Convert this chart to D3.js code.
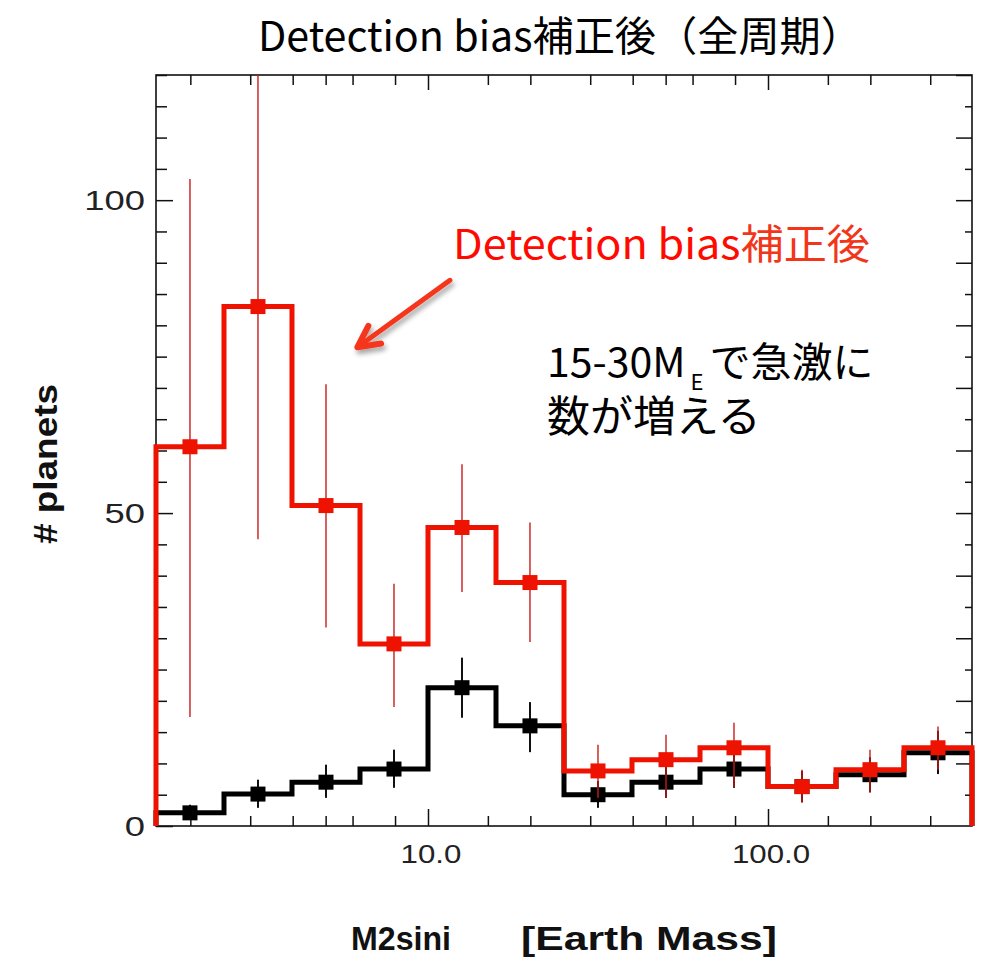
<!DOCTYPE html>
<html>
<head>
<meta charset="utf-8">
<script src="https://d3js.org/d3.v7.min.js"></script>
<style>
  body { margin: 0; background: #fff; }
  svg { display: block; }
</style>
</head>
<body>
<svg width="981" height="957"></svg>
<script>
// bin edges / centres in Earth masses (0.2 dex bins)
var binEdges = [1.585, 2.512, 3.981, 6.310, 10.0, 15.85, 25.12, 39.81, 63.10, 100.0, 158.5, 251.2, 398.1];
var binCenters = [1.995, 3.162, 5.012, 7.943, 12.59, 19.95, 31.62, 50.12, 79.43, 125.9, 199.5, 316.2];

// detection-bias corrected (red)
var corrCounts = [60.6, 83.0, 51.2, 29.1, 47.7, 38.9, 8.8, 10.6, 12.5, 6.3, 9.0, 12.5];
var corrErrLow = [17.4, 45.8, 31.7, 19.0, 37.4, 29.4, 4.5, 4.5, 6.2, 3.7, 5.3, 9.0];
var corrErrHigh = [103.4, 130.0, 70.6, 38.7, 57.8, 48.5, 13.0, 14.6, 16.5, 9.0, 12.2, 15.9];

// observed (black)
var obsCounts = [2.1, 5.1, 7.0, 9.1, 22.1, 16.0, 5.0, 7.0, 9.1, 6.3, 8.2, 11.7];
var obsErrLow = [1.0, 2.9, 4.5, 6.1, 17.3, 11.8, 2.9, 4.5, 6.1, 3.8, 5.4, 8.3];
var obsErrHigh = [3.4, 7.4, 9.8, 12.2, 26.9, 19.8, 7.2, 9.6, 12.1, 8.8, 11.0, 15.2];

var xMinorTicks = [2, 3, 4, 5, 6, 8, 15, 20, 30, 40, 50, 60, 80, 150, 200, 300];
var xMajorTicks = [10, 100];
var yMajorTicks = [0, 50, 100];

var svg = d3.select("svg");
// note: "top" is a read-only global in browsers, so prefix these
var pLeft = 156, pRight = 972, pTop = 75, pBottom = 826;

var x = d3.scaleLog()
    .domain([binEdges[0], binEdges[binEdges.length - 1]])
    .range([pLeft, pRight]);
var y = d3.scaleLinear().domain([0, 120]).range([pBottom, pTop]);

var defs = svg.append("defs");
defs.append("clipPath").attr("id", "plotclip")
    .append("rect")
    .attr("x", pLeft).attr("y", pTop)
    .attr("width", pRight - pLeft).attr("height", pBottom - pTop);
defs.append("filter").attr("id", "shadow")
    .attr("x", "-30%").attr("y", "-30%").attr("width", "160%").attr("height", "160%")
    .append("feDropShadow")
    .attr("dx", 2).attr("dy", 4).attr("stdDeviation", 2.5)
    .attr("flood-color", "#000").attr("flood-opacity", 0.35);

// frame
svg.append("rect")
    .attr("x", pLeft).attr("y", pTop)
    .attr("width", pRight - pLeft).attr("height", pBottom - pTop)
    .attr("fill", "none").attr("stroke", "#111").attr("stroke-width", 1.6);

// ticks - all inward
function tickAxis(axis, tr) {
    var g = svg.append("g").attr("transform", tr).call(axis);
    g.select(".domain").remove();
    g.selectAll(".tick line").attr("stroke", "#111").attr("stroke-width", 1.5);
    return g;
}
var yMinorTicks = d3.range(0, 121, 5).filter(function(v) { return yMajorTicks.indexOf(v) < 0; });
var yTens = d3.range(10, 121, 10);
var yFives = d3.range(5, 121, 10);

tickAxis(d3.axisBottom(x).tickValues(xMinorTicks).tickSize(-10).tickFormat(""), "translate(0," + pBottom + ")");
tickAxis(d3.axisBottom(x).tickValues(xMajorTicks).tickSize(-17).tickFormat(""), "translate(0," + pBottom + ")");
tickAxis(d3.axisTop(x).tickValues(xMinorTicks).tickSize(-10).tickFormat(""), "translate(0," + pTop + ")");
tickAxis(d3.axisTop(x).tickValues(xMajorTicks).tickSize(-15).tickFormat(""), "translate(0," + pTop + ")");
tickAxis(d3.axisLeft(y).tickValues(yMinorTicks).tickSize(-11).tickFormat(""), "translate(" + pLeft + ",0)");
tickAxis(d3.axisLeft(y).tickValues(yMajorTicks).tickSize(-17).tickFormat(""), "translate(" + pLeft + ",0)");
tickAxis(d3.axisRight(y).tickValues(yTens).tickSize(-16).tickFormat(""), "translate(" + pRight + ",0)");
tickAxis(d3.axisRight(y).tickValues(yFives).tickSize(-7).tickFormat(""), "translate(" + pRight + ",0)");

// tick labels (the original graphic is stretched sideways a little)
svg.selectAll(".xlab").data(xMajorTicks).enter().append("text")
    .attr("class", "xlab")
    .attr("transform", function(d) { return "translate(" + (x(d) + 3) + ",863) scale(1.25,1)"; })
    .attr("text-anchor", "middle")
    .attr("font-family", "Liberation Sans, Arial, sans-serif")
    .attr("font-size", 25).attr("fill", "#222")
    .text(function(d) { return d.toFixed(1); });

svg.selectAll(".ylab").data(yMajorTicks).enter().append("text")
    .attr("class", "ylab")
    .attr("transform", function(d) { return "translate(145," + (y(d) + 10) + ") scale(1.3,1)"; })
    .attr("text-anchor", "end")
    .attr("font-family", "Liberation Sans, Arial, sans-serif")
    .attr("font-size", 28).attr("fill", "#222")
    .text(function(d) { return d; });

// axis titles
svg.append("text")
    .attr("x", 351).attr("y", 950)
    .attr("font-family", "Liberation Sans, Arial, sans-serif")
    .attr("font-weight", "bold").attr("font-size", 34).attr("fill", "#111")
    .attr("textLength", 100).attr("lengthAdjust", "spacingAndGlyphs")
    .text("M2sini");
svg.append("text")
    .attr("x", 521).attr("y", 950)
    .attr("font-family", "Liberation Sans, Arial, sans-serif")
    .attr("font-weight", "bold").attr("font-size", 34).attr("fill", "#111")
    .attr("textLength", 256).attr("lengthAdjust", "spacingAndGlyphs")
    .text("[Earth Mass]");
svg.append("text")
    .attr("transform", "translate(57,464) rotate(-90)")
    .attr("text-anchor", "middle")
    .attr("font-family", "Liberation Sans, Arial, sans-serif")
    .attr("font-weight", "bold").attr("font-size", 33).attr("fill", "#111")
    .attr("textLength", 160).attr("lengthAdjust", "spacingAndGlyphs")
    .text("# planets");

// histogram series
function stepPath(counts) {
    var p = d3.path();
    p.moveTo(x(binEdges[0]), y(0));
    counts.forEach(function(c, i) {
        p.lineTo(x(binEdges[i]), y(c));
        p.lineTo(x(binEdges[i + 1]), y(c));
    });
    p.lineTo(x(binEdges[binEdges.length - 1]), y(0));
    return p.toString();
}

function drawSeries(counts, lo, hi, lineColor, errColor, errWidth) {
    var g = svg.append("g");
    g.append("g").attr("clip-path", "url(#plotclip)")
        .selectAll("line").data(counts).enter().append("line")
        .attr("x1", function(d, i) { return x(binCenters[i]); })
        .attr("x2", function(d, i) { return x(binCenters[i]); })
        .attr("y1", function(d, i) { return y(lo[i]); })
        .attr("y2", function(d, i) { return y(hi[i]); })
        .attr("stroke", errColor).attr("stroke-width", errWidth);
    g.append("path")
        .attr("d", stepPath(counts))
        .attr("fill", "none").attr("stroke", lineColor)
        .attr("stroke-width", 5).attr("stroke-linejoin", "miter");
    g.selectAll("rect").data(counts).enter().append("rect")
        .attr("x", function(d, i) { return x(binCenters[i]) - 7.5; })
        .attr("y", function(d) { return y(d) - 7.5; })
        .attr("width", 15).attr("height", 15)
        .attr("fill", lineColor);
}

drawSeries(obsCounts, obsErrLow, obsErrHigh, "#000", "#111", 2);
drawSeries(corrCounts, corrErrLow, corrErrHigh, "#ee1200", "#c81c1c", 1.4);

// title
svg.append("text")
    .attr("x", 258).attr("y", 51)
    .attr("font-family", "Noto Sans CJK JP, sans-serif")
    .attr("font-size", 41).attr("fill", "#000")
    .attr("textLength", 604).attr("lengthAdjust", "spacingAndGlyphs")
    .text("Detection bias補正後（全周期）");

// red label + arrow
var lab = svg.append("text")
    .attr("x", 453).attr("y", 259)
    .attr("font-family", "Noto Sans CJK JP, sans-serif")
    .attr("font-size", 41)
    .attr("textLength", 417).attr("lengthAdjust", "spacingAndGlyphs");
lab.append("tspan").attr("fill", "#ff0a00").text("Detection bias");
lab.append("tspan").attr("fill", "#f2361a").text("補正後");

var arrowTail = [11.6, 87.2], arrowTip = [6.2, 76.5];
var tx = x(arrowTip[0]), ty = y(arrowTip[1]);
var sx = x(arrowTail[0]), sy = y(arrowTail[1]);
var ang = Math.atan2(sy - ty, sx - tx), headLen = 24, half = 27 * Math.PI / 180;
var arrow = svg.append("g").attr("filter", "url(#shadow)")
    .attr("stroke", "#f5361a").attr("fill", "none")
    .attr("stroke-linecap", "round").attr("stroke-linejoin", "round");
arrow.append("line")
    .attr("x1", sx).attr("y1", sy).attr("x2", tx + 3 * Math.cos(ang)).attr("y2", ty + 3 * Math.sin(ang))
    .attr("stroke-width", 5);
arrow.append("polyline")
    .attr("points", [
        [tx + headLen * Math.cos(ang - half), ty + headLen * Math.sin(ang - half)],
        [tx, ty],
        [tx + headLen * Math.cos(ang + half), ty + headLen * Math.sin(ang + half)]
    ].map(function(p) { return p.join(","); }).join(" "))
    .attr("stroke-width", 6);

// black annotation: one text block, two lines, subscript E
var note = svg.append("text")
    .attr("x", 547).attr("y", 377)
    .attr("font-family", "Noto Sans CJK JP, sans-serif")
    .attr("font-size", 41).attr("fill", "#000");
note.append("tspan").text("15-30M");
note.append("tspan").attr("font-size", 22).attr("dx", 5).attr("dy", 13).text("E");
note.append("tspan").attr("dx", 6).attr("dy", -13).text("で急激に");
note.append("tspan").attr("x", 547).attr("y", 432).attr("font-size", 43).text("数が増える");
</script>
</body>
</html>
